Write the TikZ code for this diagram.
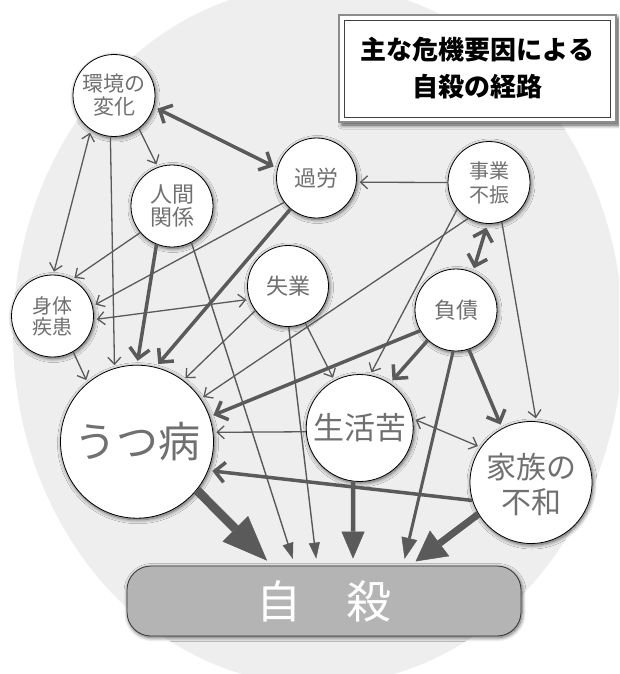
\documentclass[tikz,border=0pt]{standalone}
\usepackage{fontspec}
\setmainfont{Noto Sans CJK JP}
\usetikzlibrary{arrows.meta,shadows.blur}
\definecolor{ac}{RGB}{90,90,90}
\definecolor{bgc}{RGB}{238,238,238}
\definecolor{lbl}{RGB}{112,112,112}
\definecolor{zfill}{RGB}{180,180,180}
\newcommand\fs[2]{\fontsize{#1}{#2}\selectfont}
\begin{document}
\begin{tikzpicture}[x=1pt,y=-1pt,
  shad/.style={blur shadow={shadow xshift=1pt,shadow yshift=-1.5pt,shadow blur radius=4pt,shadow blur steps=8,shadow opacity=65}},
  circ/.style={circle,draw=black,line width=0.8pt,fill=white,inner sep=0pt,text=lbl,align=center,shad},
  aT/.style={draw=ac,line width=1.3pt,-{Straight Barb[length=7pt,width=13pt]},shorten >=3pt},
  aTd/.style={draw=ac,line width=1.3pt,{Straight Barb[length=7pt,width=13pt]}-{Straight Barb[length=7pt,width=13pt]},shorten >=3pt,shorten <=3pt},
  aK/.style={draw=ac,line width=3.5pt,-{Straight Barb[length=10pt,width=20pt]},shorten >=4pt},
  aKd/.style={draw=ac,line width=3.5pt,{Straight Barb[length=10pt,width=20pt]}-{Straight Barb[length=10pt,width=20pt]},shorten >=4pt,shorten <=4pt},
  zT/.style={draw=ac,line width=1.4pt,-{Triangle[length=16pt,width=11pt,line width=0.5pt]},shorten >=7pt},
  zF/.style={draw=ac,line width=3pt,-{Triangle[length=21pt,width=16pt,line width=0.5pt]},shorten >=7pt},
  zL/.style={draw=ac,line width=4.5pt,-{Triangle[length=27pt,width=23pt,line width=0.5pt]},shorten >=7pt},
  zY/.style={draw=ac,line width=7pt,-{Triangle[length=30pt,width=32pt,line width=0.5pt]},shorten >=7pt},
  zU/.style={draw=ac,line width=9pt,-{Triangle[length=45pt,width=36pt,line width=0.5pt]},shorten >=7pt}
]
\useasboundingbox (0,0) rectangle (619,674);
\clip (0,0) rectangle (619,674);
% background
\fill[bgc] (318,335) ellipse [x radius=305pt, y radius=350pt];

% title
\node[draw=black!45,line width=1.5pt,fill=white,minimum width=277pt,minimum height=107pt,
  blur shadow={shadow xshift=3pt,shadow yshift=-3pt,shadow blur radius=4pt,shadow blur steps=8,shadow opacity=70}] (T) at (477.5,68.5) {};
\node[draw=black!75,line width=0.7pt,minimum width=266pt,minimum height=97pt,align=center,font=\bfseries\fs{26}{37}] (T2) at (T) {主な危機要因による\\自殺の経路};

% nodes
\node[circ,minimum size=82pt,font=\fs{21}{23}] (K) at (114,95.5) {環境の\\変化};
\node[circ,minimum size=80pt,font=\fs{22}{24}] (R) at (316.5,178) {過労};
\node[circ,minimum size=82pt,font=\fs{20}{24}] (J) at (489,182.5) {事業\\不振};
\node[circ,minimum size=82pt,font=\fs{22}{23}] (N) at (172,206) {人間\\関係};
\node[circ,minimum size=81pt,font=\fs{22}{24}] (S) at (288,286) {失業};
\node[circ,minimum size=82pt,font=\fs{20}{21}] (B) at (52.5,316) {身体\\疾患};
\node[circ,minimum size=82pt,font=\fs{22}{24}] (F) at (456,310) {負債};
\node[circ,minimum size=153pt,font=\fs{42}{46}] (U) at (137,441.7) {うつ病};
\node[circ,minimum size=107pt,font=\fs{31}{34}] (L) at (359.7,428) {生活苦};
\node[circ,minimum size=122pt,font=\fs{30}{35}] (Y) at (531,482.5) {\raisebox{-6pt}[\height][\depth]{\begin{tabular}{@{}c@{}}家族の\\不和\end{tabular}}};
\node[rectangle,rounded corners=24pt,draw=black!80,line width=0.8pt,fill=zfill,minimum width=394pt,minimum height=70pt,text=white,font=\fs{45}{50},shad] (Z) at (324,601) {自　殺};

% connectors
\draw[aKd] (K.-16) -- (R.166);
\draw[aT] (K.-53) -- (N.110);
\draw[aTd] (K.-124) -- (B.89);
\draw[aT] (K.-95) -- (U.107);
\draw[aT] (N.-140) -- (B.62);
\draw[aK] (N.-112) -- (U.90);
\draw[zT] (N.-62) -- ([xshift=-29pt]Z.north);
\draw[aT] (R.-143) -- (B.14);
\draw[aK] (R.-130) -- (U.76);
\draw[aTd] (B.-5) -- (S.199);
\draw[aT] (S.-143) -- (U.53);
\draw[aT] (S.-65) -- (L.118);
\draw[zT] (S.-89) -- ([xshift=-7pt]Z.north);
\draw[aT] (J.180) -- (R.-6);
\draw[aT] (J.-120) -- (U.34);
\draw[aT] (J.-140) -- (L.79);
\draw[aKd] (J.-92) -- (F.66);
\draw[aT] (J.-72) -- (Y.85);
\draw[aK] (F.-150) -- (U.19);
\draw[aK] (F.-133) -- (L.56);
\draw[zF] (F.-94) -- ([xshift=79pt]Z.north);
\draw[aK] (F.-72) -- (Y.118);
\draw[aT] (L.184) -- (U.7);
\draw[aTd] (L.10) -- (Y.145);
\draw[zL] (L.-97) -- ([xshift=29pt]Z.north);
\draw[aK] (Y.-163) -- (U.-22);
\draw[zY] (Y.-149) -- ([xshift=86pt]Z.north);
\draw[zU] (U.-39) -- ([xshift=-52pt]Z.north);
\draw[aT] (B.-60) -- (U.130);
\end{tikzpicture}
\end{document}
